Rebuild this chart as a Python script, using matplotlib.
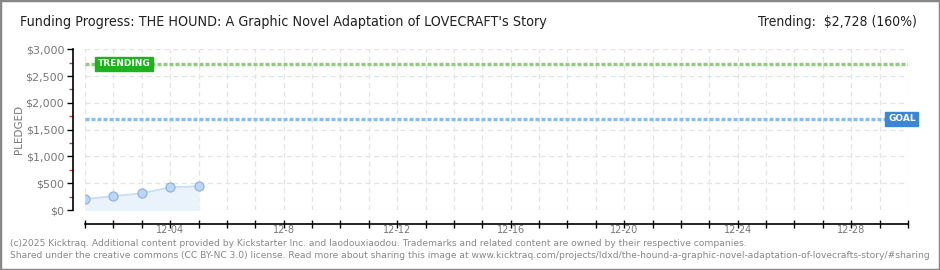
import matplotlib
matplotlib.use("Agg")
import matplotlib.pyplot as plt
from matplotlib.patches import Rectangle

# Data
days = [1, 2, 3, 4, 5]
pledged = [205, 260, 312, 425, 444]
goal = 1700
trending = 2728
x_min, x_max = 1, 30
label_days = [4, 8, 12, 16, 20, 24, 28]
label_texts = ["12-04", "12-8", "12-12", "12-16", "12-20", "12-24", "12-28"]
y_ticks = [0, 500, 1000, 1500, 2000, 2500, 3000]
y_labels = ["$0", "$500", "$1,000", "$1,500", "$2,000", "$2,500", "$3,000"]
title = "Funding Progress: THE HOUND: A Graphic Novel Adaptation of LOVECRAFT's Story"
trend_text = "Trending:  $2,728 (160%)"
footer1 = ("(c)2025 Kicktraq. Additional content provided by Kickstarter Inc. and laodouxiaodou. "
           "Trademarks and related content are owned by their respective companies.")
footer2 = ("Shared under the creative commons (CC BY-NC 3.0) license. Read more about sharing this image at "
           "www.kicktraq.com/projects/ldxd/the-hound-a-graphic-novel-adaptation-of-lovecrafts-story/#sharing")

W, H = 940, 270
fig = plt.figure(figsize=(W / 100, H / 100), dpi=100)
fig.patch.set_facecolor("white")
fig.patches.append(Rectangle((0, 0), 1, 1, transform=fig.transFigure, fill=False,
                             edgecolor="#888888", linewidth=2.5))

left, right = 85 / W, 908 / W
bottom, top = (H - 210) / H, (H - 49.3) / H
ax = fig.add_axes([left, bottom, right - left, top - bottom])
ax.set_xlim(x_min, x_max)
ax.set_ylim(0, 3000)

# grid
for d in range(x_min, x_max + 1):
    ax.axvline(d, color="#e4e4e4", lw=0.9, ls=(0, (4, 3)), zorder=0)
for v in y_ticks:
    ax.axhline(v, color="#e4e4e4", lw=0.9, ls=(0, (4, 3)), zorder=0)

# area + line + markers
ax.fill_between(days, pledged, 0, color="#eaf2fc", zorder=1)
ax.plot(days, pledged, color="#c5dcf5", lw=1.2, zorder=2)
ax.plot(days, pledged, "o", ms=6.5, mfc="#bcd6f5", mec="#90b4de", mew=0.9, zorder=3)

# goal and trending lines
ax.axhline(trending, color="#86d374", lw=2.4, ls=(0, (1.2, 0.6)), zorder=2)
ax.axhline(goal, color="#8cbcea", lw=2.4, ls=(0, (1.2, 0.6)), zorder=2)

ax.text(1.45, trending, "TRENDING", color="white", fontsize=6.5, fontweight="bold",
        ha="left", va="center", zorder=5,
        bbox=dict(boxstyle="square,pad=0.3", fc="#1db31d", ec="#1db31d"))
ax.text(29.3, goal, "GOAL", color="white", fontsize=6.5, fontweight="bold",
        ha="left", va="center", zorder=5,
        bbox=dict(boxstyle="square,pad=0.3", fc="#3b87d6", ec="#3b87d6"))

# spines
for s in ["top", "right"]:
    ax.spines[s].set_visible(False)
ax.spines["left"].set_position(("outward", 9))
ax.spines["bottom"].set_position(("outward", 10))
ax.spines["left"].set_linewidth(1.2)
ax.spines["bottom"].set_linewidth(1.2)

ax.set_yticks(y_ticks)
ax.set_yticklabels(y_labels, color="#777777", fontsize=8)
ax.set_yticks([250, 750, 1250, 1750, 2250, 2750], minor=True)
ax.tick_params(axis="y", which="major", length=4, width=1, direction="out", pad=2)
ax.tick_params(axis="y", which="minor", length=3, width=1, color="#e03030", direction="out")

ax.set_xticks(list(range(x_min, x_max + 1)))
ax.set_xticklabels([""] * (x_max - x_min + 1))
ax.tick_params(axis="x", which="major", length=6, width=1, direction="inout")
for d, t in zip(label_days, label_texts):
    ax.annotate(t, xy=(d, 0), xycoords=("data", "axes fraction"), xytext=(0, -14.5),
                textcoords="offset points", ha="center", va="center",
                fontsize=7, color="#777777")

ax.set_ylabel("PLEDGED", color="#777777", fontsize=7.5, labelpad=1)

fig.text(20 / W, 1 - 22 / H, title, fontsize=10.3, fontstretch="condensed",
         color="#222222", ha="left", va="center")
fig.text(917 / W, 1 - 22 / H, trend_text, fontsize=10, fontstretch="condensed",
         color="#222222", ha="right", va="center")
fig.text(10 / W, 1 - 243 / H, footer1, fontsize=6.6, color="#888888", ha="left", va="center")
fig.text(10 / W, 1 - 255 / H, footer2, fontsize=6.6, color="#888888", ha="left", va="center")

fig.savefig("out.png", dpi=100, facecolor="white")
